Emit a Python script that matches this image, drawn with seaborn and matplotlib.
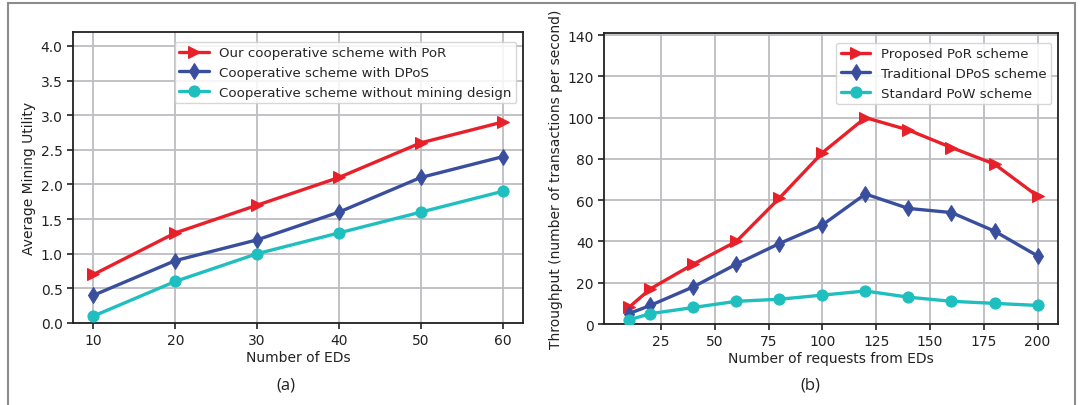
import numpy as np
import pandas as pd
import matplotlib
matplotlib.use('Agg')
import matplotlib.pyplot as plt
import seaborn as sns
from matplotlib.patches import Rectangle

# panel (a) data
eds = [10, 20, 30, 40, 50, 60]
util_por = [0.7, 1.3, 1.7, 2.1, 2.6, 2.9]
util_dpos = [0.4, 0.9, 1.2, 1.6, 2.1, 2.4]
util_nomine = [0.1, 0.6, 1.0, 1.3, 1.6, 1.9]
labels_a = ['Our cooperative scheme with PoR',
            'Cooperative scheme with DPoS',
            'Cooperative scheme without mining design']

# panel (b) data
requests = [10, 20, 40, 60, 80, 100, 120, 140, 160, 180, 200]
tp_por = [8, 17, 29, 40, 61, 83, 100, 94, 85.5, 77.5, 62]
tp_dpos = [5, 9, 18, 29, 39, 48, 63, 56, 54, 45, 33]
tp_pow = [2, 5, 8, 11, 12, 14, 16, 13, 11, 10, 9]
labels_b = ['Proposed PoR scheme', 'Traditional DPoS scheme', 'Standard PoW scheme']

colors = ['#e8202a', '#3a4e9e', '#1fbfbf']
markers = ['>', 'd', 'o']

sns.set_style('ticks')
plt.rcParams['font.family'] = ['DejaVu Sans']

fig = plt.figure(figsize=(10.85, 4.06), dpi=100)
ax1 = fig.add_axes([0.0673, 0.202, 0.4147, 0.7167])
ax2 = fig.add_axes([0.5567, 0.1995, 0.4184, 0.7167])


def draw(ax, x, series, labels):
    for y, lab, c, m in zip(series, labels, colors, markers):
        df = pd.DataFrame({'x': x, 'y': y})
        sns.lineplot(data=df, x='x', y='y', ax=ax, color=c, marker=m,
                     markersize=8, markeredgecolor=c, linewidth=2.4,
                     label=lab, zorder=3)
    ax.grid(True, color='#bdbdc2', linewidth=1.3)
    ax.set_axisbelow(True)
    for s in ax.spines.values():
        s.set_color('#222222')
        s.set_linewidth(1.3)
    ax.tick_params(labelsize=10, colors='#222222', width=1.2, length=4)


def legend(ax):
    ax.legend(loc='upper right', fontsize=9.6, frameon=True, borderpad=0.35,
              handlelength=2.2, labelspacing=0.5, framealpha=0.85,
              edgecolor='#d0d0d0', fancybox=True, bbox_to_anchor=(1.0, 0.99))


draw(ax1, eds, [util_por, util_dpos, util_nomine], labels_a)
ax1.set_xlim(7.5, 62.5)
ax1.set_ylim(0, 4.2)
ax1.set_yticks(np.arange(0, 4.01, 0.5))
ax1.set_xticks(eds)
ax1.set_xlabel('Number of EDs', fontsize=10, color='#222222', labelpad=2)
ax1.set_ylabel('Average Mining Utility', fontsize=10, color='#222222', labelpad=3)
legend(ax1)

draw(ax2, requests, [tp_por, tp_dpos, tp_pow], labels_b)
ax2.set_xlim(-1.5, 209.5)
ax2.set_ylim(0, 141)
ax2.set_yticks(np.arange(0, 141, 20))
ax2.set_xticks([25, 50, 75, 100, 125, 150, 175, 200])
ax2.set_xlabel('Number of requests from EDs', fontsize=10, color='#222222', labelpad=2)
ax2.set_ylabel('Throughput (number of transactions per second)', fontsize=10,
               color='#222222', labelpad=3)
legend(ax2)

fig.text(286 / 1085, 1 - 386 / 406, '(a)', ha='center', va='center',
         fontsize=12, family=['Open Sans', 'DejaVu Sans'], color='#222222')
fig.text(810 / 1085, 1 - 386 / 406, '(b)', ha='center', va='center',
         fontsize=12, family=['Open Sans', 'DejaVu Sans'], color='#222222')

# outer frame of the figure panel
fig.patches.append(Rectangle((8 / 1085, -0.1), (1075 - 8) / 1085, 1.1 - 4 / 406,
                             transform=fig.transFigure, fill=False,
                             edgecolor='#8c8c8c', linewidth=1.5))

fig.savefig('out.png', dpi=100)
